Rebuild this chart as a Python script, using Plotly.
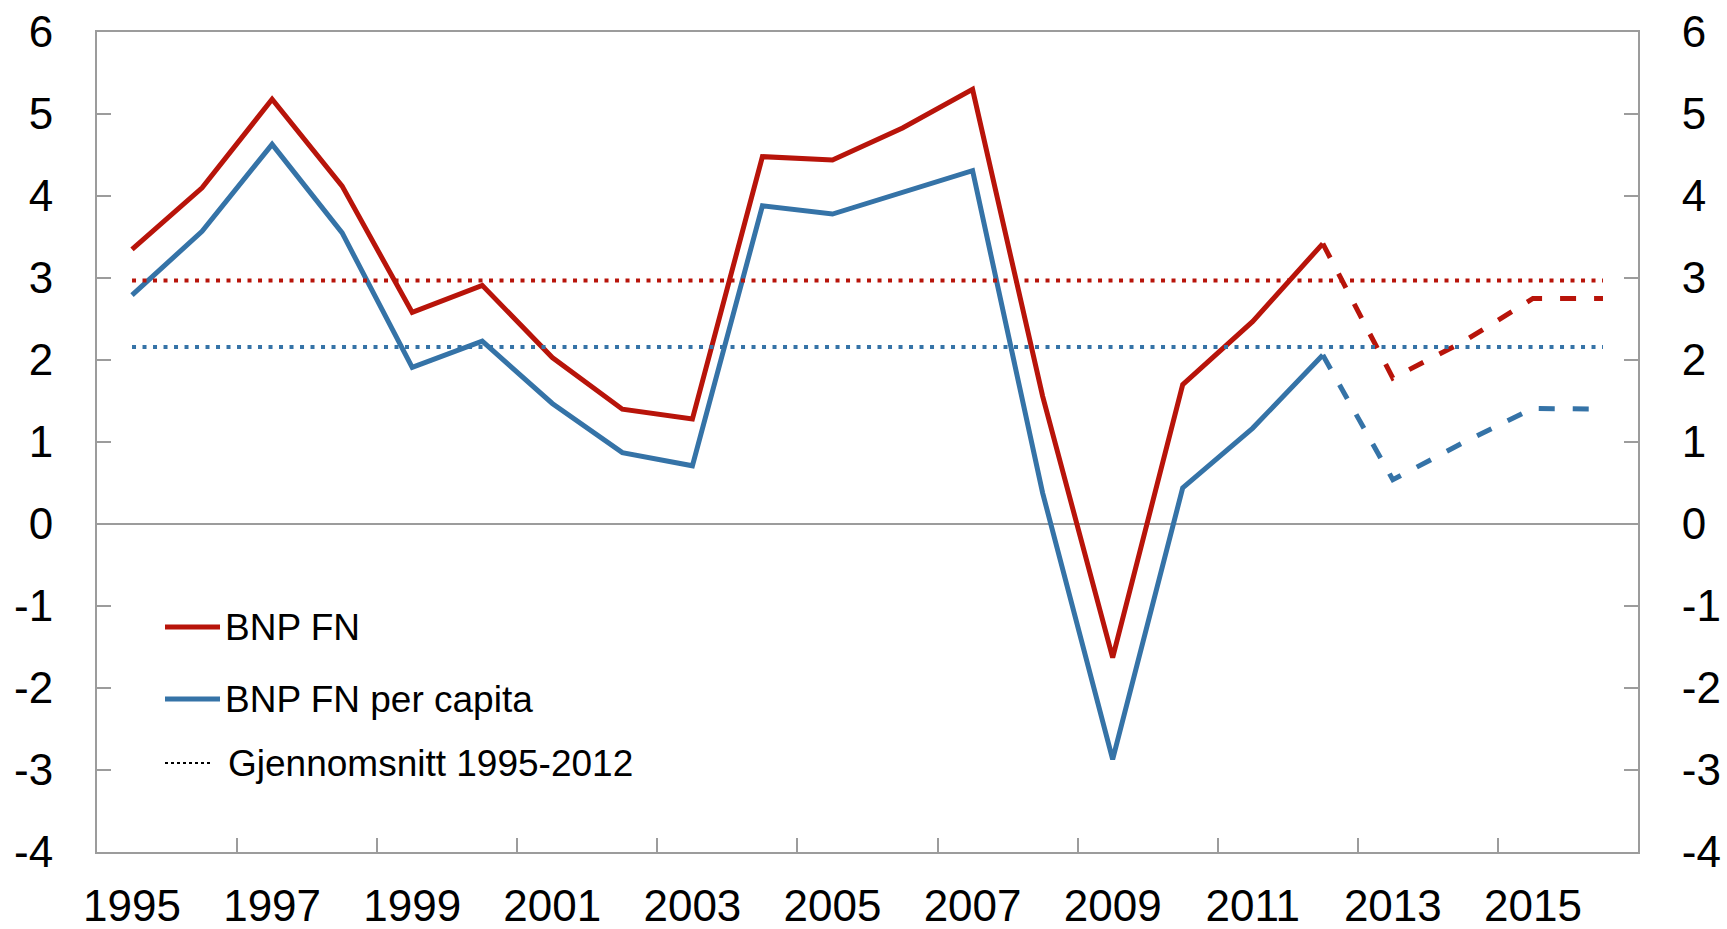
import plotly.graph_objects as go

# ---- data ----
years_hist = list(range(1995, 2013))
bnp_fn = [3.35, 4.10, 5.18, 4.12, 2.58, 2.91, 2.03, 1.40, 1.28, 4.48, 4.44, 4.83,
          5.30, 1.56, -1.63, 1.70, 2.47, 3.42]
bnp_fn_capita = [2.79, 3.57, 4.63, 3.55, 1.91, 2.23, 1.47, 0.87, 0.71, 3.88, 3.78, 4.05,
                 4.31, 0.38, -2.87, 0.44, 1.17, 2.06]
years_fc = [2012, 2013, 2014, 2015, 2016]
bnp_fn_fc = [3.42, 1.78, 2.22, 2.75, 2.75]
bnp_fn_capita_fc = [2.06, 0.54, 0.99, 1.41, 1.40]
avg_years = [1995, 2016]
avg_bnp_fn = 2.97
avg_bnp_fn_capita = 2.16
x_labels = [str(y) for y in range(1995, 2017, 2)]
y_ticks = list(range(-4, 7))
y_labels = [str(v) for v in y_ticks]  # plain hyphen-minus as in the original

RED = "#B8140A"
BLUE = "#3573A7"
GRAY = "#9C9C9C"
FONT = "Liberation Sans, Arial, sans-serif"

W, H = 1727, 929
L, T = 97, 32
R = W - 1638
B = H - 852
pw, ph = W - L - R, H - T - B

fig = go.Figure()
fig.add_trace(go.Scatter(x=avg_years, y=[avg_bnp_fn] * 2, mode="lines", yaxis="y2",
                         line=dict(color=RED, width=4, dash="4px,6.5px"), showlegend=False))
fig.add_trace(go.Scatter(x=avg_years, y=[avg_bnp_fn_capita] * 2, mode="lines", yaxis="y2",
                         line=dict(color=BLUE, width=4, dash="4px,6.5px"), showlegend=False))
fig.add_trace(go.Scatter(x=years_hist, y=bnp_fn_capita, mode="lines",
                         line=dict(color=BLUE, width=5), showlegend=False))
fig.add_trace(go.Scatter(x=years_hist, y=bnp_fn, mode="lines",
                         line=dict(color=RED, width=5), showlegend=False))
fig.add_trace(go.Scatter(x=years_fc, y=bnp_fn_capita_fc, mode="lines",
                         line=dict(color=BLUE, width=5, dash="16px,18px"), showlegend=False))
fig.add_trace(go.Scatter(x=years_fc, y=bnp_fn_fc, mode="lines",
                         line=dict(color=RED, width=5, dash="16px,18px"), showlegend=False))


def px_x(px):
    return (px - L) / pw


def px_y(py):
    return (H - B - py) / ph


legend_items = [
    ("BNP FN", RED, 5, "solid", 165, 220, 627, 223),
    ("BNP FN per capita", BLUE, 5, "solid", 165, 220, 699, 223),
    ("Gjennomsnitt 1995-2012", "#000000", 1.8, "dot", 165, 210, 763, 226),
]
shapes = []
annotations = []
for text, col, wdt, dash, x0, x1, yy, tx in legend_items:
    shapes.append(dict(type="line", xref="paper", yref="paper",
                       x0=px_x(x0), x1=px_x(x1), y0=px_y(yy), y1=px_y(yy),
                       line=dict(color=col, width=wdt, dash=dash)))
    annotations.append(dict(text=text, xref="paper", yref="paper", x=px_x(tx), y=px_y(yy),
                            xanchor="left", yanchor="middle", showarrow=False,
                            font=dict(family=FONT, size=37, color="#000000")))

tickfont = dict(family=FONT, size=44, color="#000000")
fig.update_layout(
    width=W, height=H,
    margin=dict(l=L, r=R, t=T, b=B),
    paper_bgcolor="white", plot_bgcolor="white",
    showlegend=False,
    shapes=shapes, annotations=annotations,
    xaxis=dict(range=[1994.5, 2016.5], tickmode="array",
               tickvals=list(range(1995, 2017, 2)), ticktext=x_labels,
               ticks="", showgrid=False, zeroline=False, automargin=False,
               showline=True, linecolor=GRAY, linewidth=2, mirror=True,
               tickfont=tickfont, ticklabelstandoff=14, ticklabeloverflow="allow",
               minor=dict(tickmode="array", tickvals=[y + 0.5 for y in range(1996, 2016, 2)],
                          ticks="inside", ticklen=14, tickcolor=GRAY, tickwidth=1.5,
                          showgrid=False)),
    yaxis=dict(range=[-4, 6], tickmode="array", tickvals=y_ticks, ticktext=y_labels,
               ticks="inside", ticklen=14, tickcolor=GRAY, tickwidth=1.5,
               showgrid=False, zeroline=True, zerolinecolor=GRAY, zerolinewidth=2,
               showline=True, linecolor=GRAY, linewidth=2, automargin=False,
               tickfont=tickfont, ticklabelstandoff=33, ticklabeloverflow="allow"),
    yaxis2=dict(range=[-4, 6], tickmode="array", tickvals=y_ticks, ticktext=y_labels,
                overlaying="y", side="right",
                ticks="inside", ticklen=14, tickcolor=GRAY, tickwidth=1.5,
                showgrid=False, zeroline=False, automargin=False,
                showline=True, linecolor=GRAY, linewidth=2,
                tickfont=tickfont, ticklabelstandoff=33, ticklabeloverflow="allow"),
)

# remove the default 8px page margin so the full-size figure fits the window
fig.write_html("out.html", config={"displayModeBar": False},
               post_script="document.body.style.margin='0';")
